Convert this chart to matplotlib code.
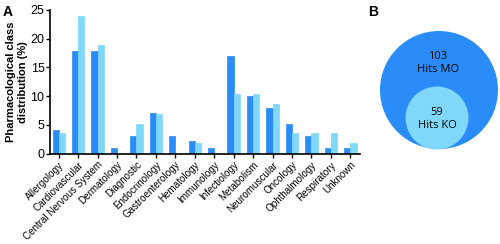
import numpy as np
import matplotlib.pyplot as plt
from matplotlib.patches import Circle

categories = ["Allergology", "Cardiovascular", "Central Nervous System", "Dermatology",
              "Diagnostic", "Endocrinology", "Gastroenterology", "Hematology",
              "Immunology", "Infectiology", "Metabolism", "Neuromuscular",
              "Oncology", "Ophthalmology", "Respiratory", "Unknown"]
hits_mo = [4.1, 17.9, 17.9, 1.0, 3.0, 7.0, 3.0, 2.1, 1.0, 16.9, 10.0, 8.0, 5.1, 3.0, 1.0, 1.0]
hits_ko = [3.5, 24.0, 18.9, 0, 5.2, 6.9, 0, 1.8, 0, 10.3, 10.3, 8.6, 3.5, 3.5, 3.5, 1.9]
n_mo = 103
n_ko = 59

dark = "#2a8cf8"
light = "#7fd8fa"

plt.rcParams['font.family'] = ['Liberation Sans', 'DejaVu Sans']

W, H = 500, 244
fig = plt.figure(figsize=(W / 100, H / 100), dpi=100)

# panel A
ax = fig.add_axes([50 / W, 1 - 153.5 / H, 310 / W, 143.5 / H])
x = np.arange(len(categories))
w = 0.32
ax.bar(x - w / 2, hits_mo, w, color=dark, edgecolor=dark, linewidth=0.5)
ax.bar(x + w / 2, hits_ko, w, color=light, edgecolor=light, linewidth=0.5)
ax.set_xlim(-0.45, len(categories) - 0.5)
ax.set_ylim(0, 25)
ax.set_yticks([0, 5, 10, 15, 20, 25])
ax.set_xticks(x)
ax.set_xticklabels(categories, rotation=45, ha='right', rotation_mode='anchor', fontsize=7.1)
ax.tick_params(axis='y', labelsize=9, length=3, width=1, pad=1)
ax.tick_params(axis='x', length=3, width=1, pad=1.5)
for s in ['top', 'right']:
    ax.spines[s].set_visible(False)
for s in ['left', 'bottom']:
    ax.spines[s].set_linewidth(1.2)
ax.set_ylabel("Pharmacological class\ndistribution (%)", fontsize=8, fontweight='bold', labelpad=2)

fig.text(3 / W, 1 - 16 / H, "A", fontsize=10, fontweight='bold')
fig.text(368 / W, 1 - 16 / H, "B", fontsize=10, fontweight='bold')

# panel B
bx = fig.add_axes([370 / W, 1 - 160 / H, 130 / W, 140 / H])
bx.set_xlim(370, 500)
bx.set_ylim(160, 20)
bx.set_aspect('equal')
bx.axis('off')
bx.add_patch(Circle((439, 90), 59, color=dark, lw=0))
bx.add_patch(Circle((437, 118), 31.5, color=light, lw=0))
bx.text(438, 63, f"{n_mo}\nHits MO", ha='center', va='center', fontsize=8,
        family=['Open Sans', 'DejaVu Sans'], linespacing=1.25)
bx.text(437, 119, f"{n_ko}\nHits KO", ha='center', va='center', fontsize=8,
        family=['Open Sans', 'DejaVu Sans'], linespacing=1.25)

fig.savefig("out.png", dpi=100)
